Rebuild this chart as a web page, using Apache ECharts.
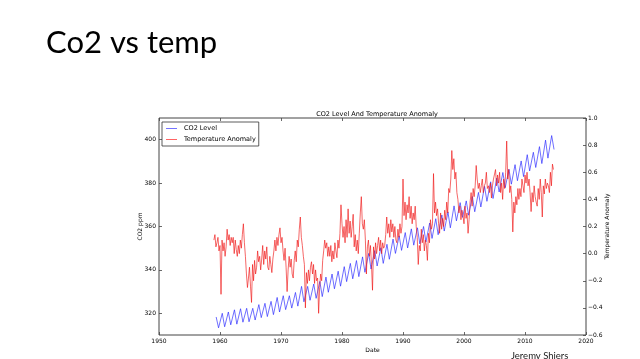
<!DOCTYPE html>
<html>
<head>
<meta charset="utf-8">
<script src="https://cdn.jsdelivr.net/npm/echarts@6/dist/echarts.min.js"></script>
<style>
html,body{margin:0;padding:0;background:#fff;}
#chart{width:640px;height:359px;}
</style>
</head>
<body>
<div id="chart"></div>
<script>
// ---- data ----
const slideTitle = 'Co2 vs temp';
const chartTitle = 'CO2 Level And Temperature Anomaly';
const author = 'Jeremy Shiers';
const co2Name = 'CO2 Level';
const tempName = 'Temperature Anomaly';
const xTickLabels = [1950, 1960, 1970, 1980, 1990, 2000, 2010, 2020];
const co2TickLabels = [320, 340, 360, 380, 400];
const tempTickLabels = [-0.6, -0.4, -0.2, 0.0, 0.2, 0.4, 0.6, 0.8, 1.0];

// CO2: yearly seasonal peak (May) and trough (autumn), 1959..2014
const co2FirstYear = 1959;
const co2Peak = [318.3, 320.0, 320.6, 321.6, 322.1, 322.3, 322.3, 324.0, 324.6, 325.5,
  327.3, 328.1, 328.1, 329.6, 332.4, 332.4, 333.5, 334.7, 336.7, 338.1,
  339.4, 341.5, 343.0, 344.3, 346.0, 347.6, 348.9, 350.2, 351.8, 354.2,
  355.7, 357.2, 358.9, 359.4, 360.0, 361.6, 363.6, 365.3, 366.7, 369.5,
  371.0, 371.8, 373.8, 375.7, 378.5, 380.6, 382.3, 384.9, 386.4, 388.5,
  390.2, 393.1, 394.2, 396.8, 399.8, 401.9];
const co2Trough = [313.3, 313.8, 314.7, 315.0, 315.9, 316.1, 316.9, 318.0, 318.5, 319.4,
  320.6, 321.7, 322.4, 323.3, 325.3, 326.0, 326.9, 327.7, 329.7, 331.3,
  332.5, 334.6, 335.9, 336.9, 338.9, 340.4, 341.8, 343.0, 344.9, 347.6,
  349.0, 350.1, 351.4, 352.0, 352.9, 354.5, 356.2, 357.9, 359.4, 362.6,
  364.2, 365.2, 366.8, 369.0, 371.6, 372.9, 375.9, 377.9, 379.5, 381.1,
  383.0, 385.6, 387.2, 389.0, 391.5, 395.5];

// Temperature anomaly: six readings per year from 1959.0
const tempFirstYear = 1959;
const tempPerYear = 6;
const tempValues = [
  0.10, 0.14, 0.05, 0.08, 0.12, 0.02,
  0.06, -0.30, 0.10, 0.02, 0.08, -0.02,
  0.05, 0.18, 0.10, 0.14, 0.06, 0.12,
  0.08, 0.12, 0.00, 0.10, 0.03, -0.02,
  0.06, 0.00, 0.10, 0.04, 0.14, 0.22,
  0.08, -0.02, -0.15, -0.25, -0.18, -0.10,
  -0.24, -0.36, -0.08, -0.20, -0.05, -0.15,
  -0.10, 0.02, -0.06, -0.02, -0.12, -0.04,
  0.06, -0.08, 0.02, -0.04, 0.05, -0.10,
  -0.12, -0.02, -0.08, -0.14, -0.04, 0.02,
  0.10, 0.02, 0.12, 0.06, 0.14, 0.19,
  0.08, 0.12, 0.02, -0.05, 0.04, -0.10,
  -0.28, -0.12, -0.02, -0.10, -0.04, -0.15,
  -0.18, -0.05, 0.02, -0.06, 0.10, 0.05,
  0.18, 0.27, 0.12, 0.06, -0.02, -0.08,
  -0.40, -0.14, -0.22, -0.12, -0.20, -0.10,
  -0.06, -0.15, -0.08, -0.22, -0.12, -0.20,
  -0.18, -0.44, -0.25, -0.15, -0.20, -0.05,
  0.02, 0.10, 0.04, 0.08, -0.02, 0.05,
  -0.02, 0.06, -0.06, 0.02, -0.04, 0.08,
  0.02, -0.03, 0.10, 0.04, 0.15, 0.36,
  0.22, 0.12, 0.20, 0.08, 0.25, 0.12,
  0.33, 0.15, 0.24, 0.12, 0.20, 0.29,
  0.05, 0.14, 0.02, 0.10, 0.00, 0.15,
  0.30, 0.42, 0.22, 0.18, 0.25, 0.10,
  -0.15, 0.05, 0.10, -0.02, 0.06, -0.08,
  -0.27, 0.05, -0.04, 0.08, 0.00, 0.06,
  0.12, 0.02, 0.10, 0.00, 0.08, 0.04,
  0.06, 0.14, 0.27, 0.15, 0.22, 0.12,
  0.25, 0.16, 0.22, 0.12, 0.20, 0.10,
  0.08, 0.18, 0.12, 0.22, 0.15, 0.20,
  0.55, 0.28, 0.38, 0.25, 0.36, 0.30,
  0.42, 0.26, 0.35, 0.22, 0.30, 0.25,
  0.35, 0.20, 0.12, -0.08, 0.06, 0.02,
  0.18, 0.08, 0.14, 0.02, 0.10, 0.06,
  -0.05, 0.15, 0.08, 0.25, 0.18, 0.22,
  0.59, 0.30, 0.38, 0.28, 0.33, 0.22,
  0.15, 0.30, 0.18, 0.26, 0.20, 0.32,
  0.25, 0.38, 0.30, 0.48, 0.45, 0.55,
  0.76, 0.62, 0.70, 0.55, 0.60, 0.45,
  0.40, 0.30, 0.35, 0.25, 0.32, 0.28,
  0.22, 0.35, 0.26, 0.30, 0.15, 0.25,
  0.38, 0.45, 0.35, 0.48, 0.42, 0.50,
  0.65, 0.55, 0.48, 0.52, 0.45, 0.50,
  0.55, 0.45, 0.50, 0.52, 0.60, 0.48,
  0.50, 0.45, 0.52, 0.41, 0.50, 0.55,
  0.55, 0.62, 0.50, 0.58, 0.52, 0.60,
  0.45, 0.52, 0.40, 0.55, 0.48, 0.60,
  0.83, 0.55, 0.62, 0.45, 0.50, 0.40,
  0.16, 0.38, 0.30, 0.42, 0.36, 0.48,
  0.40, 0.48, 0.42, 0.55, 0.50, 0.45,
  0.58, 0.52, 0.60, 0.50, 0.55, 0.45,
  0.31, 0.45, 0.38, 0.50, 0.42, 0.38,
  0.35, 0.48, 0.40, 0.55, 0.45, 0.27,
  0.50, 0.44, 0.55, 0.48, 0.52, 0.50,
  0.45, 0.60, 0.50, 0.66, 0.62
];

// ---- build series data ----
const co2Data = [];
for (let i = 0; i < co2Peak.length; i++) {
  co2Data.push([co2FirstYear + i + 0.37, co2Peak[i]]);
  if (i < co2Trough.length) co2Data.push([co2FirstYear + i + 0.76, co2Trough[i]]);
}
const tempData = tempValues.map((v, i) => [tempFirstYear + i / tempPerYear, v]);

const FONT = 'DejaVu Sans';
const tickFont = 6;
const chart = echarts.init(document.getElementById('chart'), null, {renderer: 'canvas'});
const fmtTemp = v => { const s = (Math.round(v * 10) / 10).toFixed(1); return s === '-0.0' ? '0.0' : s.replace('-', '\u2212'); };
const tickStyle = {show: true, inside: true, length: 3, lineStyle: {color: '#444', width: 0.8}};

chart.setOption({
  animation: false,
  backgroundColor: '#fff',
  title: [
    {text: slideTitle, left: 41, top: 22, textStyle: {fontFamily: 'Lato', fontWeight: 'normal', fontSize: 31, color: '#000'}},
    {text: chartTitle, left: 372, top: 106, textAlign: 'center', textStyle: {fontFamily: FONT, fontWeight: 'normal', fontSize: 6.5, color: '#000'}},
    {text: author, left: 506, top: 346, textStyle: {fontFamily: 'Lato', fontWeight: 'normal', fontSize: 9.5, color: '#222'}}
  ],
  legend: {
    orient: 'vertical', left: 162, top: 122,
    icon: 'rect', itemWidth: 11, itemHeight: 1,
    itemGap: 4, padding: [3, 3, 3, 4],
    backgroundColor: '#fff', borderColor: '#333', borderWidth: 0.8,
    textStyle: {fontFamily: FONT, fontSize: 6.5, color: '#000', padding: [0, 0, 0, 2]},
    data: [
      {name: co2Name, itemStyle: {color: 'rgba(80,80,255,0.8)'}},
      {name: tempName, itemStyle: {color: 'rgba(255,60,60,0.8)'}}
    ]
  },
  grid: {left: 159, right: 54, top: 118, bottom: 24, containLabel: false, outerBoundsMode: 'none',
         show: true, borderColor: '#444', borderWidth: 1, backgroundColor: 'transparent'},
  xAxis: [
    {type: 'value', position: 'bottom', min: 1950, max: 2020, interval: 10,
     name: 'Date', nameLocation: 'middle', nameGap: 12, nameMoveOverlap: false,
     nameTextStyle: {fontFamily: FONT, fontSize: tickFont, color: '#000'},
     axisLine: {show: false, onZero: false},
     axisTick: tickStyle,
     axisLabel: {fontFamily: FONT, fontSize: tickFont, color: '#000', margin: 3, formatter: v => String(v),
                 customValues: xTickLabels},
     splitLine: {show: false}},
    {type: 'value', position: 'top', min: 1950, max: 2020, interval: 10,
     axisLine: {show: false, onZero: false},
     axisTick: tickStyle,
     axisLabel: {show: false}, splitLine: {show: false}}
  ],
  yAxis: [
    {type: 'value', position: 'left', min: 310, max: 410, interval: 10,
     name: 'CO2 ppm', nameLocation: 'middle', nameGap: 16, nameRotate: 90, nameMoveOverlap: false,
     nameTextStyle: {fontFamily: FONT, fontSize: tickFont, color: '#000'},
     axisLine: {show: false, onZero: false},
     axisTick: Object.assign({}, tickStyle, {customValues: co2TickLabels}),
     axisLabel: {fontFamily: FONT, fontSize: tickFont, color: '#000', margin: 3, customValues: co2TickLabels},
     splitLine: {show: false}},
    {type: 'value', position: 'right', min: -0.6, max: 1.0, interval: 0.2,
     name: tempName, nameLocation: 'middle', nameGap: 18, nameRotate: 90, nameMoveOverlap: false,
     nameTextStyle: {fontFamily: FONT, fontSize: tickFont, color: '#000'},
     axisLine: {show: false, onZero: false},
     axisTick: Object.assign({}, tickStyle, {customValues: tempTickLabels}),
     axisLabel: {fontFamily: FONT, fontSize: tickFont, color: '#000', margin: 2, formatter: fmtTemp, customValues: tempTickLabels},
     splitLine: {show: false}}
  ],
  series: [
    {name: co2Name, type: 'line', xAxisIndex: 0, yAxisIndex: 0, data: co2Data,
     showSymbol: false, symbol: 'none', silent: true,
     lineStyle: {color: 'rgba(40,40,255,0.75)', width: 0.9}, itemStyle: {color: 'rgba(80,80,255,0.8)'}},
    {name: tempName, type: 'line', xAxisIndex: 0, yAxisIndex: 1, data: tempData,
     showSymbol: false, symbol: 'none', silent: true,
     lineStyle: {color: 'rgba(240,20,20,0.72)', width: 0.9}, itemStyle: {color: 'rgba(255,60,60,0.8)'}}
  ]
});
</script>
</body>
</html>
